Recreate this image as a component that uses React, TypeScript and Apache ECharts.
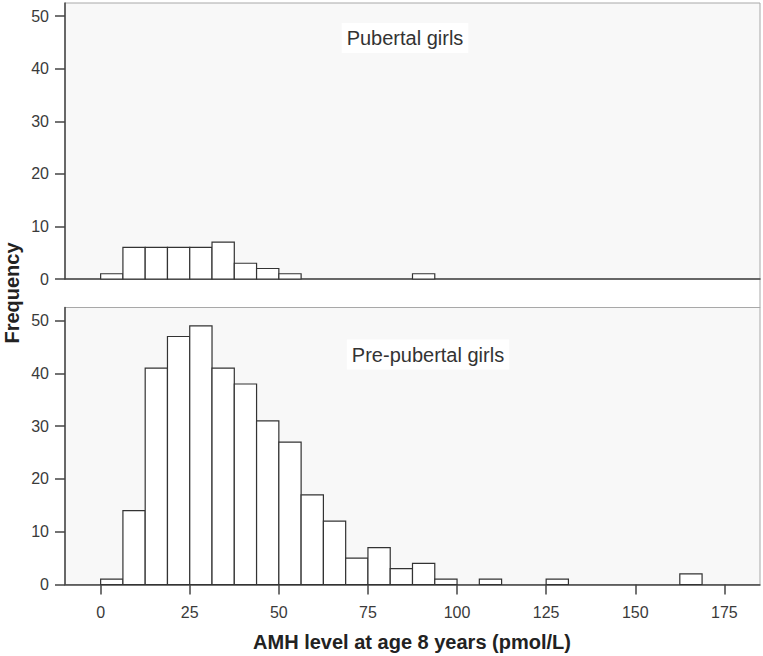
import React, { useEffect, useRef } from "react";
import * as echarts from "echarts";

// Histogram bins (pmol/L), width 6.25
const binStarts = [
  0, 6.25, 12.5, 18.75, 25, 31.25, 37.5, 43.75, 50, 56.25, 62.5, 68.75, 75, 81.25,
  87.5, 93.75, 100, 106.25, 112.5, 118.75, 125, 131.25, 137.5, 143.75, 150, 156.25,
  162.5, 168.75,
];
const binWidth = 6.25;

const pubertalCounts = [
  1, 6, 6, 6, 6, 7, 3, 2, 1, 0, 0, 0, 0, 0, 1, 0, 0, 0, 0, 0, 0, 0, 0, 0, 0, 0, 0, 0,
];
const prepubertalCounts = [
  1, 14, 41, 47, 49, 41, 38, 31, 27, 17, 12, 5, 7, 3, 4, 1, 0, 1, 0, 0, 1, 0, 0, 0, 0, 0, 2, 0,
];

const xTicks = [0, 25, 50, 75, 100, 125, 150, 175];
const yTicks = [0, 10, 20, 30, 40, 50];

const panelLabels = ["Pubertal girls", "Pre-pubertal girls"];
const xTitle = "AMH level at age 8 years (pmol/L)";
const yTitle = "Frequency";

const FONT = "'Liberation Sans', Arial, Helvetica, sans-serif";

function toData(counts: number[]) {
  return counts
    .map((c, i) => [binStarts[i], binStarts[i] + binWidth, c])
    .filter((d) => d[2] > 0);
}

export default function App() {
  const ref = useRef<HTMLDivElement>(null);

  useEffect(() => {
    if (!ref.current) return;
    const chart = echarts.init(ref.current, null, { renderer: "svg" });

    const renderItem = (params: any, api: any) => {
      const x0 = api.value(0);
      const x1 = api.value(1);
      const y = api.value(2);
      const p0 = api.coord([x0, y]);
      const p1 = api.coord([x1, 0]);
      return {
        type: "rect",
        shape: { x: p0[0], y: p0[1], width: p1[0] - p0[0], height: p1[1] - p0[1] },
        style: { fill: "#ffffff", stroke: "#333333", lineWidth: 1.2 },
      };
    };

    const axisLineStyle = { color: "#444444", width: 1.5 };
    const labelStyle = { color: "#3a3a3a", fontSize: 16, fontFamily: FONT };

    const grids = [
      { left: 65, width: 695, top: 3, height: 276 },
      { left: 65, width: 695, top: 307.5, height: 277 },
    ].map((g) => ({
      ...g,
      show: true,
      backgroundColor: "#f8f8f8",
      borderColor: "#a8a8a8",
      borderWidth: 1,
    }));

    const xAxes = [0, 1].map((i) => ({
      type: "value",
      gridIndex: i,
      min: -10,
      max: 185,
      splitLine: { show: false },
      axisLine: { show: true, onZero: false, lineStyle: axisLineStyle },
      axisTick: {
        show: i === 1,
        length: 10,
        lineStyle: axisLineStyle,
        customValues: xTicks,
      },
      axisLabel: {
        show: i === 1,
        ...labelStyle,
        margin: 20,
        customValues: xTicks,
      },
    }));

    const yAxes = [0, 1].map((i) => ({
      type: "value",
      gridIndex: i,
      min: 0,
      max: 52.5,
      splitLine: { show: false },
      axisLine: { show: true, onZero: false, lineStyle: axisLineStyle },
      axisTick: { show: true, length: 10, lineStyle: axisLineStyle, customValues: yTicks },
      axisLabel: { ...labelStyle, margin: 16, customValues: yTicks },
    }));

    chart.setOption({
      animation: false,
      backgroundColor: "#ffffff",
      grid: grids,
      xAxis: xAxes,
      yAxis: yAxes,
      series: [
        {
          type: "custom",
          xAxisIndex: 0,
          yAxisIndex: 0,
          renderItem,
          encode: { x: [0, 1], y: 2 },
          data: toData(pubertalCounts),
          z: 3,
        },
        {
          type: "custom",
          xAxisIndex: 1,
          yAxisIndex: 1,
          renderItem,
          encode: { x: [0, 1], y: 2 },
          data: toData(prepubertalCounts),
          z: 3,
        },
      ],
      graphic: [
        {
          type: "line",
          shape: { x1: 760, y1: 279, x2: 760, y2: 308 },
          style: { stroke: "#a8a8a8", lineWidth: 1 },
        },
        {
          type: "text",
          x: 405,
          y: 38,
          z: 10,
          style: {
            text: panelLabels[0],
            fill: "#333333",
            font: `20px ${FONT}`,
            textAlign: "center",
            textVerticalAlign: "middle",
            backgroundColor: "#ffffff",
            padding: [5, 5],
          },
        },
        {
          type: "text",
          x: 428,
          y: 354.5,
          z: 10,
          style: {
            text: panelLabels[1],
            fill: "#333333",
            font: `20px ${FONT}`,
            textAlign: "center",
            textVerticalAlign: "middle",
            backgroundColor: "#ffffff",
            padding: [5, 5],
          },
        },
        {
          type: "text",
          x: 412,
          y: 642,
          style: {
            text: xTitle,
            fill: "#222222",
            font: `bold 20px ${FONT}`,
            textAlign: "center",
            textVerticalAlign: "middle",
          },
        },
        {
          type: "text",
          x: 12,
          y: 293,
          rotation: Math.PI / 2,
          style: {
            text: yTitle,
            fill: "#222222",
            font: `bold 20px ${FONT}`,
            textAlign: "center",
            textVerticalAlign: "middle",
          },
        },
      ],
    });

    return () => chart.dispose();
  }, []);

  return (
    <div
      ref={ref}
      style={{ position: "absolute", left: 0, top: 0, width: 763, height: 656 }}
    />
  );
}
